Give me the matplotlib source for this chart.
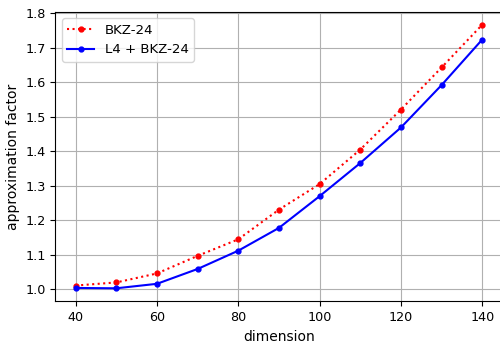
import matplotlib
matplotlib.use("Agg")
import matplotlib.pyplot as plt

dims = [40, 50, 60, 70, 80, 90, 100, 110, 120, 130, 140]
bkz = [1.011, 1.020, 1.046, 1.097, 1.145, 1.231, 1.305, 1.405, 1.521, 1.643, 1.767]
l4bkz = [1.004, 1.003, 1.016, 1.059, 1.112, 1.178, 1.270, 1.366, 1.469, 1.592, 1.724]

plt.rcParams["font.size"] = 10
plt.rcParams["xtick.labelsize"] = 9.2
plt.rcParams["ytick.labelsize"] = 9.2
fig = plt.figure(figsize=(5.0, 3.41), dpi=100)
ax = fig.add_axes([0.1106, 0.1161, 0.8946, 0.850])
ax.plot(dims, bkz, color="red", linestyle=":", marker="o", markersize=3.5, label="BKZ-24")
ax.plot(dims, l4bkz, color="blue", linestyle="-", marker="o", markersize=3.5, label="L4 + BKZ-24")
ax.set_xlabel("dimension", fontsize=10)
ax.set_ylabel("approximation factor", fontsize=10)
ax.set_xticks([40, 60, 80, 100, 120, 140])
ax.set_yticks([1.0, 1.1, 1.2, 1.3, 1.4, 1.5, 1.6, 1.7, 1.8])
ax.set_xlim(35, 145)
ax.set_ylim(0.965, 1.805)
ax.spines["right"].set_visible(False)
ax.grid(True)
ax.legend(loc="upper left", fontsize=9.6)
fig.savefig("out.png", dpi=100)
